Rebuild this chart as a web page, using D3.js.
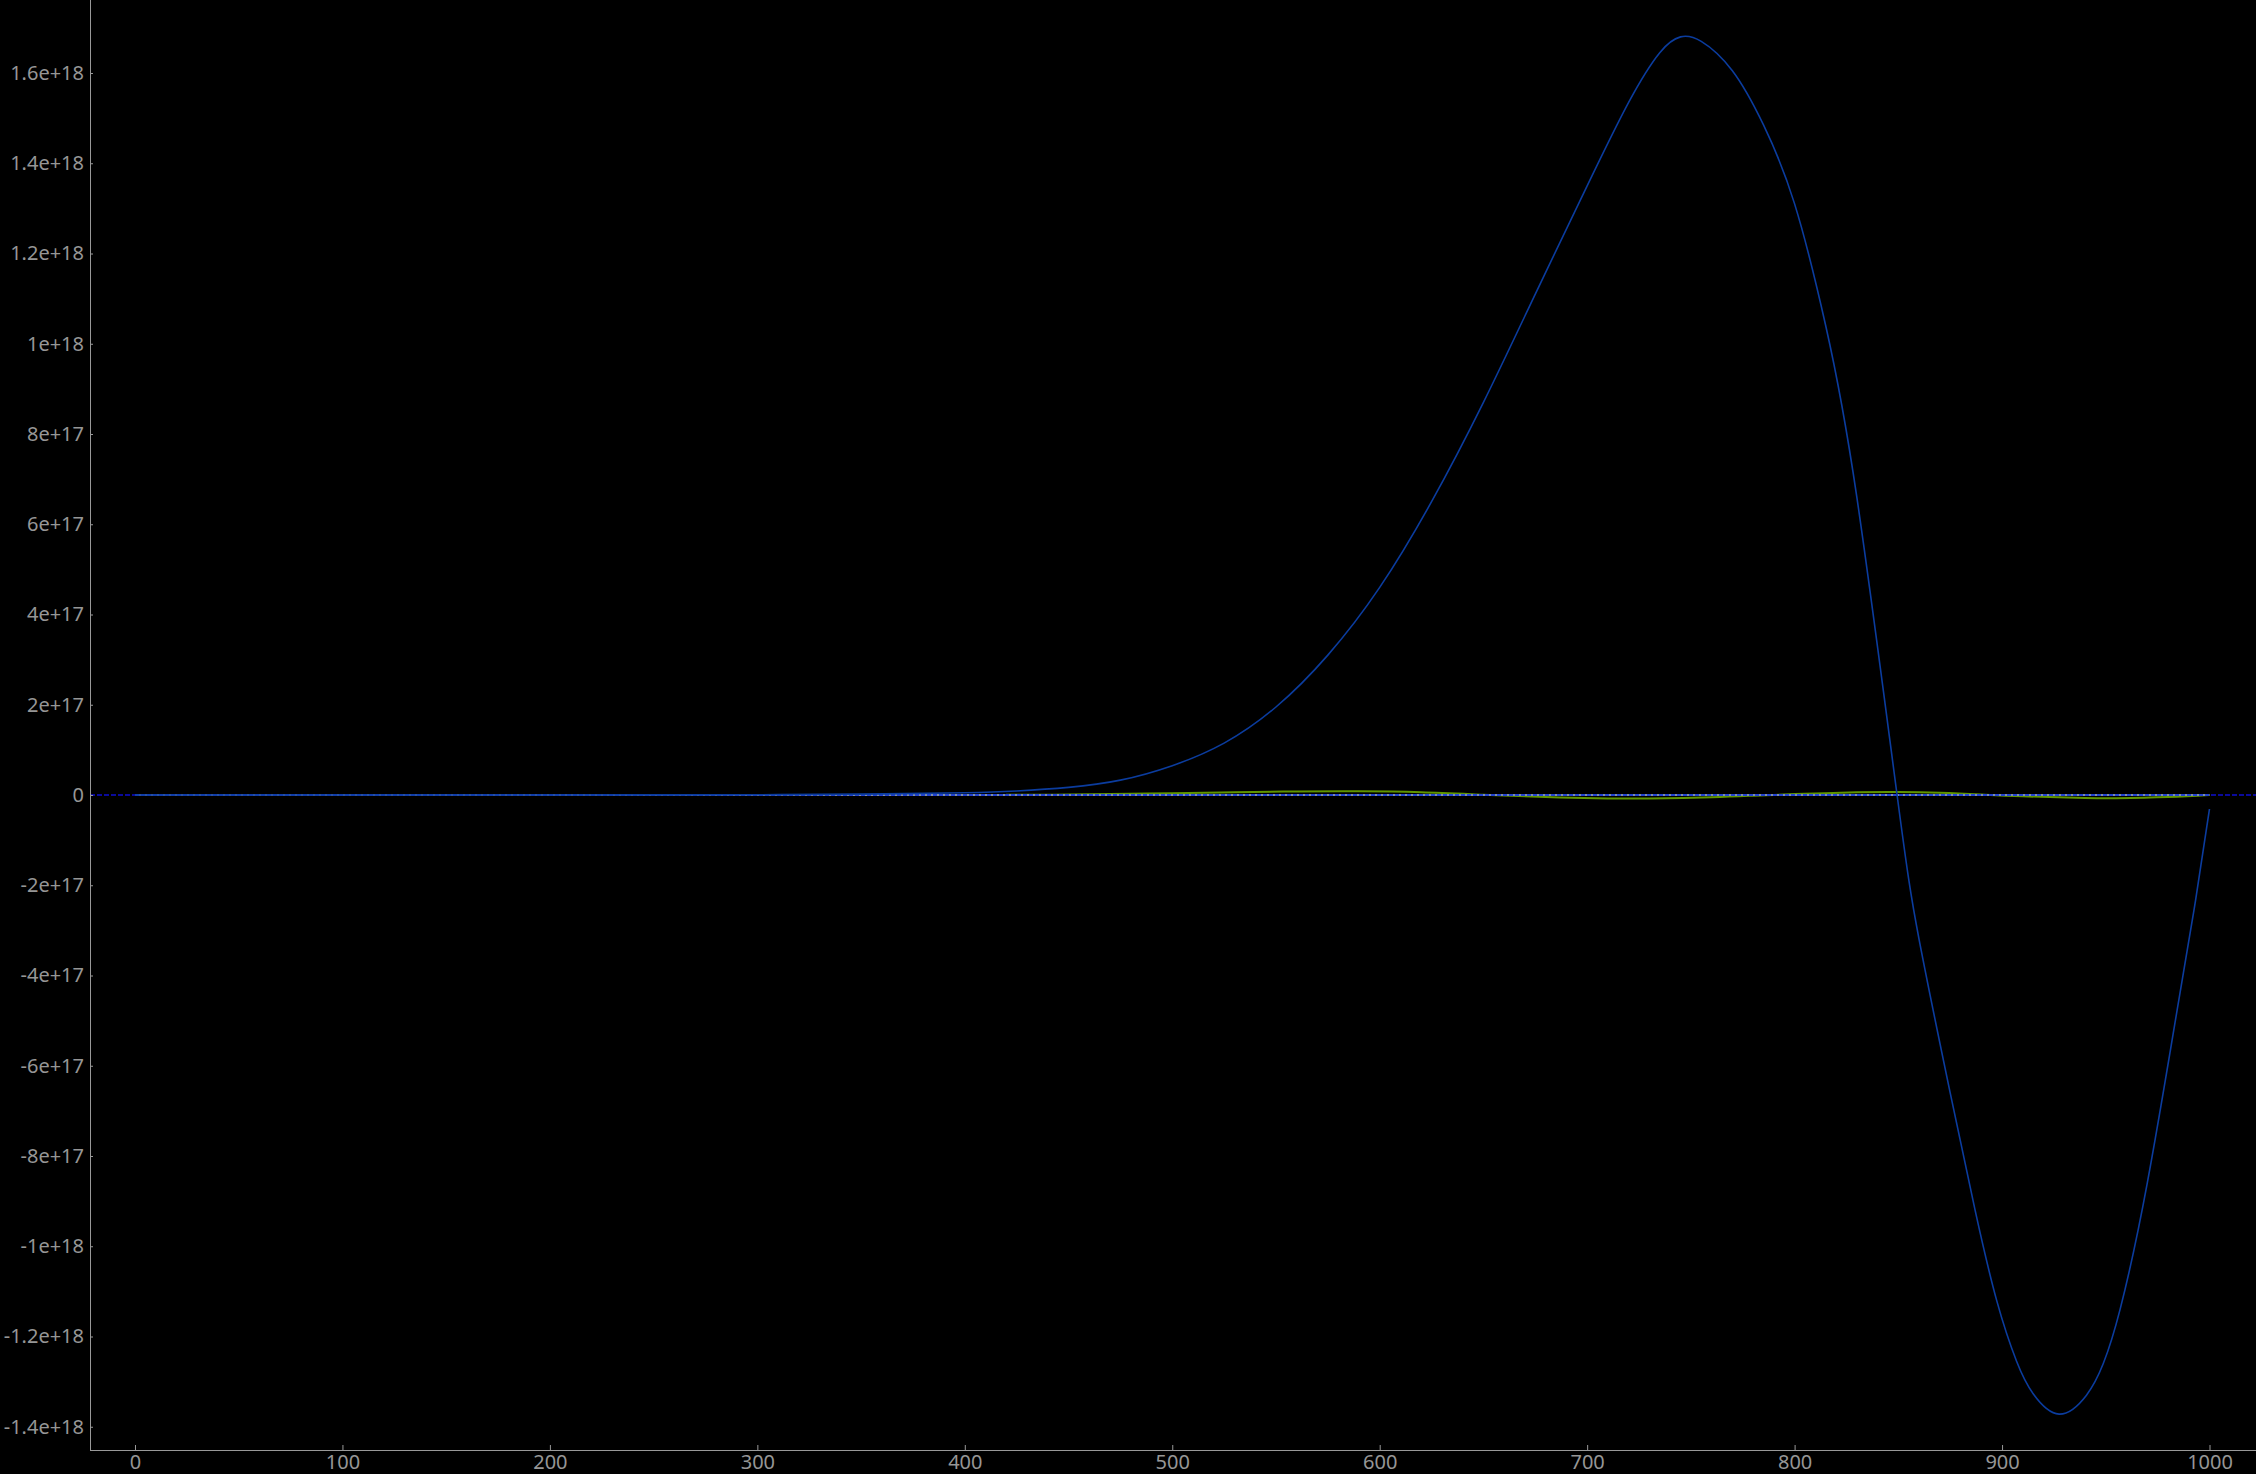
<!DOCTYPE html>
<html>
<head>
<meta charset="utf-8">
<title>signal plot</title>
<script src="https://d3js.org/d3.v7.min.js"></script>
<style>
  html, body { margin: 0; padding: 0; background: #000; }
  svg { display: block; }
  .axis text { font-family: "Noto Sans", sans-serif; font-size: 20px; fill: #969696; }
  .axis line { stroke: #999; }
</style>
</head>
<body>
<div id="chart"></div>
<script>
// tick values
var xTicks = [0, 100, 200, 300, 400, 500, 600, 700, 800, 900, 1000];
var yTicks = [-1.4e18, -1.2e18, -1e18, -8e17, -6e17, -4e17, -2e17, 0,
              2e17, 4e17, 6e17, 8e17, 1e18, 1.2e18, 1.4e18, 1.6e18];

// blue series
var blueX = [0, 50, 100, 150, 200, 250, 300, 350, 400, 425, 450, 475, 500, 525, 550, 575,
             600, 625, 650, 675, 700, 720, 735, 745, 755, 770, 785, 800, 815, 830, 849.4, 860,
             875, 887, 897.4, 907, 915, 927.5, 940.7, 948.8, 956.9, 970, 985, 993.3, 1000];
var blueY = [0, 0, 0, 0, 0, 2e14, 6e14, 2e15, 5e15, 9e15, 1.7e16, 3.3e16, 6.5e16, 1.15e17, 1.95e17, 3.1e17,
             4.6e17, 6.5e17, 8.7e17, 1.11e18, 1.35e18, 1.535e18, 1.645e18, 1.68e18, 1.67e18, 1.605e18, 1.485e18, 1.31e18, 1.04e18, 6.6e17, 0, -3.2e17,
             -6.6e17, -9.2e17, -1.12e18, -1.255e18, -1.327e18, -1.372e18, -1.33e18, -1.26e18, -1.14e18, -8.6e17, -4.6e17, -2.33e17, -3.1e16];

// green series
var greenX = [0, 200, 400, 420, 450, 480, 500, 530, 560, 590, 620, 650, 680, 710, 730, 760, 780,
              800, 830, 850, 870, 890, 910, 940, 955, 980, 1000];
var greenY = [0, 0, 0, 3e14, 1e15, 2.5e15, 4e15, 6e15, 7.8e15, 8.2e15, 6e15, 5e14, -4.5e15, -7.5e15, -7.8e15, -5e15, -1.5e15,
              2e15, 6e15, 6.8e15, 5e15, 1e15, -3e15, -6.5e15, -7e15, -4.5e15, 0];

var W = 2256, H = 1474;
var axisX = 90, axisY = 1450;

var svg = d3.select("#chart").append("svg")
    .attr("width", W)
    .attr("height", H);

svg.append("rect").attr("width", W).attr("height", H).attr("fill", "#000");

var x = d3.scaleLinear().domain([0, 1000]).range([135, 2209.5]);
var y = d3.scaleLinear().domain([0, 1.6e18]).range([795, 73]);

var plot = svg.append("g");
plot.append("clipPath").attr("id", "clip")
  .append("rect").attr("x", axisX + 1).attr("y", 0).attr("width", W - axisX).attr("height", axisY);

var g = plot.append("g").attr("clip-path", "url(#clip)");

// infinite zero line, dark blue dashes
g.append("line")
    .attr("x1", axisX).attr("x2", W)
    .attr("y1", y(0)).attr("y2", y(0))
    .attr("stroke", "#0a0a9c")
    .attr("stroke-width", 2)
    .attr("stroke-dasharray", "5,2");

var line = d3.line()
    .x(function(d) { return x(d[0]); })
    .y(function(d) { return y(d[1]); })
    .curve(d3.curveNatural);

var green = greenX.map(function(v, i) { return [v, greenY[i]]; });
var blue = blueX.map(function(v, i) { return [v, blueY[i]]; });

g.append("path")
    .datum(green)
    .attr("fill", "none")
    .attr("stroke", "#5f9600")
    .attr("stroke-width", 2)
    .attr("d", line);

// zero baseline over the data range
g.append("line")
    .attr("x1", x(0)).attr("x2", x(1000))
    .attr("y1", y(0)).attr("y2", y(0))
    .attr("stroke", "#7d8fa8")
    .attr("stroke-width", 2);
g.append("line")
    .attr("x1", x(0)).attr("x2", x(1000))
    .attr("y1", y(0)).attr("y2", y(0))
    .attr("stroke", "#2343d2")
    .attr("stroke-width", 2)
    .attr("stroke-dasharray", "4,2");

g.append("path")
    .datum(blue)
    .attr("fill", "none")
    .attr("stroke", "#0b3c9e")
    .attr("stroke-width", 1.6)
    .attr("d", line);

// axes
var yAxis = d3.axisLeft(y)
    .tickValues(yTicks)
    .tickSize(-3)
    .tickPadding(6)
    .tickFormat(function(d) { return d === 0 ? "0" : d.toExponential(); });

var xAxis = d3.axisBottom(x)
    .tickValues(xTicks)
    .tickSize(-5)
    .tickPadding(5)
    .tickFormat(function(d) { return d; });

svg.append("g")
    .attr("class", "y axis")
    .attr("transform", "translate(" + axisX + ",0)")
    .call(yAxis)
    .call(function(s) { s.select(".domain").remove(); });

svg.append("g")
    .attr("class", "x axis")
    .attr("transform", "translate(0," + axisY + ")")
    .call(xAxis)
    .call(function(s) { s.select(".domain").remove(); });

svg.append("line")
    .attr("x1", axisX + 0.5).attr("x2", axisX + 0.5)
    .attr("y1", 0).attr("y2", axisY)
    .attr("stroke", "#999");
svg.append("line")
    .attr("x1", axisX).attr("x2", W)
    .attr("y1", axisY + 0.5).attr("y2", axisY + 0.5)
    .attr("stroke", "#999");
</script>
</body>
</html>
